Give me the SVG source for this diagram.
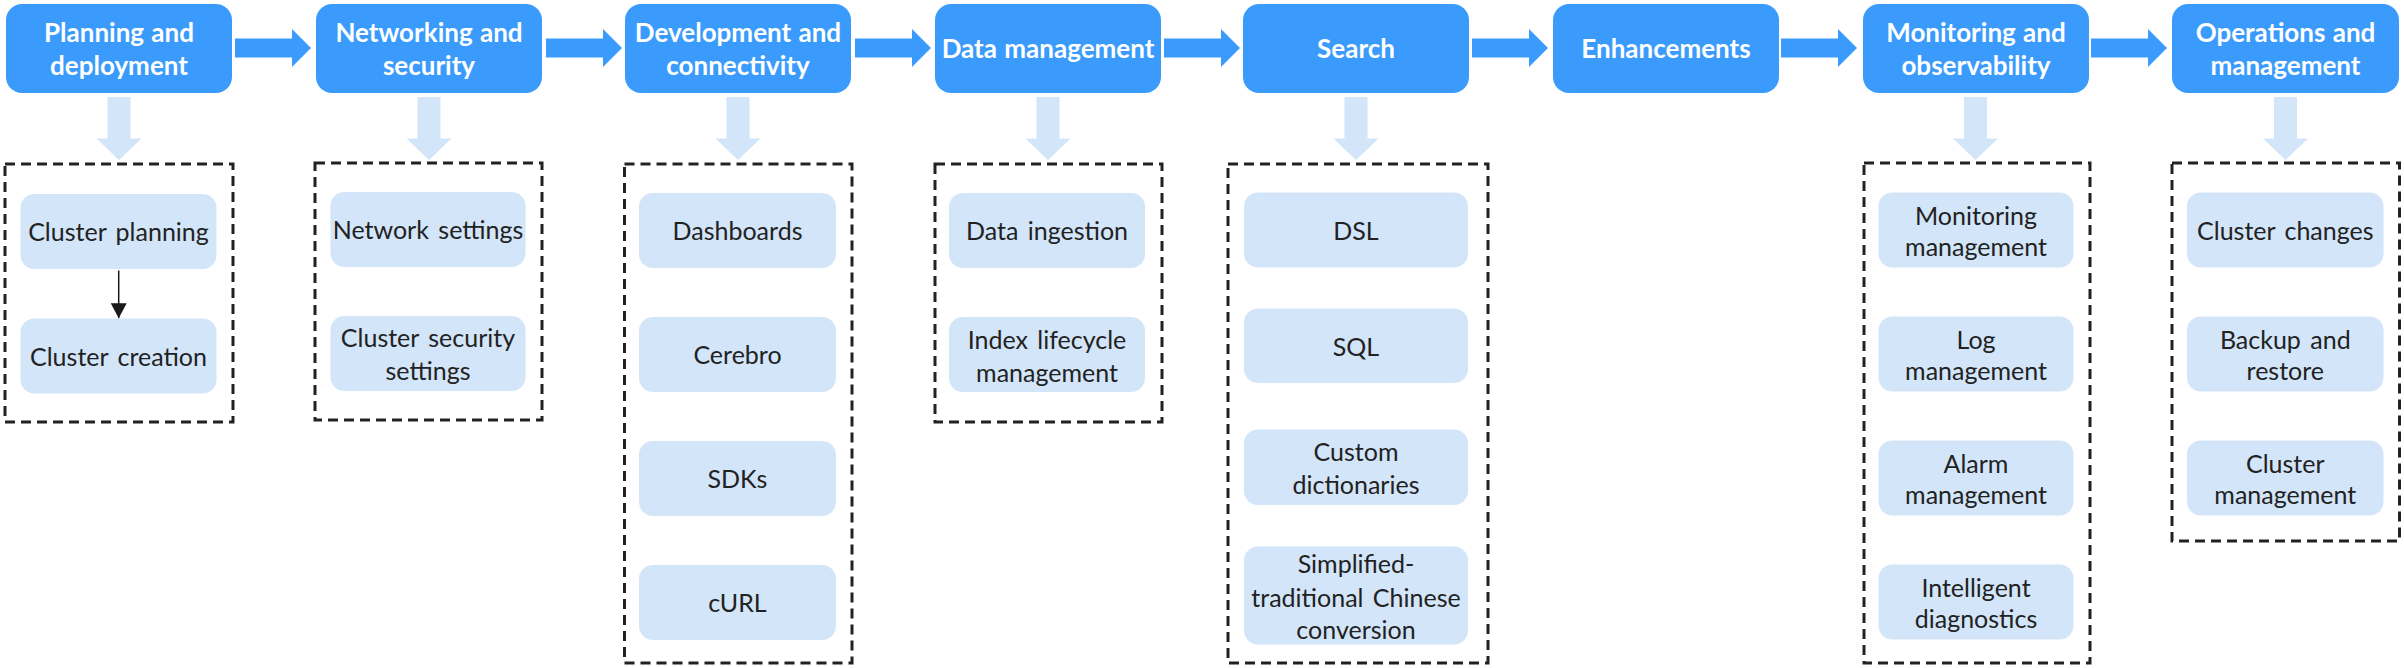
<svg xmlns="http://www.w3.org/2000/svg" width="2404" height="668" viewBox="0 0 2404 668">
<style>
.top{fill:#3a9bfd}
.toptxt{font-family:Lato,"Open Sans",sans-serif;font-weight:bold;font-size:26px;word-spacing:1px;fill:#ffffff;text-anchor:middle}
.item{fill:#d3e5f9}
.itxt{font-family:Lato,"Open Sans",sans-serif;font-size:25px;word-spacing:3px;fill:#222222;text-anchor:middle}
.cont{fill:none;stroke:#222222;stroke-width:3;stroke-dasharray:10 6}
.harrow{fill:#3a9bfd}
.varrow{fill:#d3e5f9}
</style>
<defs>
<marker id="blk" markerWidth="16" markerHeight="16" refX="15" refY="8" orient="auto" markerUnits="userSpaceOnUse">
<path d="M0,0 L15,8 L0,16 Z" fill="#1a1a1a"/>
</marker>
</defs>
<rect width="2404" height="668" fill="#ffffff"/>

<g id="connectors">
<polygon class="harrow" points="235,38.5 292,38.5 292,29 311,48 292,67 292,57.5 235,57.5"/>
<polygon class="harrow" points="546,38.5 603,38.5 603,29 622,48 603,67 603,57.5 546,57.5"/>
<polygon class="harrow" points="855,38.5 912,38.5 912,29 931,48 912,67 912,57.5 855,57.5"/>
<polygon class="harrow" points="1164,38.5 1221,38.5 1221,29 1240,48 1221,67 1221,57.5 1164,57.5"/>
<polygon class="harrow" points="1472,38.5 1529,38.5 1529,29 1548,48 1529,67 1529,57.5 1472,57.5"/>
<polygon class="harrow" points="1781,38.5 1838,38.5 1838,29 1857,48 1838,67 1838,57.5 1781,57.5"/>
<polygon class="harrow" points="2091,38.5 2148,38.5 2148,29 2167,48 2148,67 2148,57.5 2091,57.5"/>

<polygon class="varrow" points="107.5,97 130.5,97 130.5,138.5 141.5,138.5 119,160 96.5,138.5 107.5,138.5"/>
<polygon class="varrow" points="417.5,97 440.5,97 440.5,138.5 451.5,138.5 429,160 406.5,138.5 417.5,138.5"/>
<polygon class="varrow" points="726.5,97 749.5,97 749.5,138.5 760.5,138.5 738,160 715.5,138.5 726.5,138.5"/>
<polygon class="varrow" points="1036.5,97 1059.5,97 1059.5,138.5 1070.5,138.5 1048,160 1025.5,138.5 1036.5,138.5"/>
<polygon class="varrow" points="1344.5,97 1367.5,97 1367.5,138.5 1378.5,138.5 1356,160 1333.5,138.5 1344.5,138.5"/>
<polygon class="varrow" points="1964,97 1987,97 1987,138.5 1998,138.5 1975.5,160 1953,138.5 1964,138.5"/>
<polygon class="varrow" points="2274,97 2297,97 2297,138.5 2308,138.5 2285.5,160 2263,138.5 2274,138.5"/>

<line x1="118.7" y1="270.5" x2="118.7" y2="318.3" stroke="#1a1a1a" stroke-width="1.5" marker-end="url(#blk)"/>
</g>

<g id="n-planning">
<rect class="top" x="6" y="4" width="226" height="89" rx="16"/>
<text class="toptxt" x="119" y="41.5">Planning and</text>
<text class="toptxt" x="119" y="75">deployment</text>
</g>
<g id="n-networking">
<rect class="top" x="316" y="4" width="226" height="89" rx="16"/>
<text class="toptxt" x="429" y="41.5">Networking and</text>
<text class="toptxt" x="429" y="75">security</text>
</g>
<g id="n-development">
<rect class="top" x="625" y="4" width="226" height="89" rx="16"/>
<text class="toptxt" x="738" y="41.5">Development and</text>
<text class="toptxt" x="738" y="75">connectivity</text>
</g>
<g id="n-data">
<rect class="top" x="935" y="4" width="226" height="89" rx="16"/>
<text class="toptxt" x="1048" y="57.5">Data management</text>
</g>
<g id="n-search">
<rect class="top" x="1243" y="4" width="226" height="89" rx="16"/>
<text class="toptxt" x="1356" y="57.5">Search</text>
</g>
<g id="n-enhancements">
<rect class="top" x="1553" y="4" width="226" height="89" rx="16"/>
<text class="toptxt" x="1666" y="57.5">Enhancements</text>
</g>
<g id="n-monitoring">
<rect class="top" x="1863" y="4" width="226" height="89" rx="16"/>
<text class="toptxt" x="1976" y="41.5">Monitoring and</text>
<text class="toptxt" x="1976" y="75">observability</text>
</g>
<g id="n-operations">
<rect class="top" x="2172" y="4" width="227" height="89" rx="16"/>
<text class="toptxt" x="2285.5" y="41.5">Operations and</text>
<text class="toptxt" x="2285.5" y="75">management</text>
</g>

<g id="g-planning">
<rect class="cont" x="5" y="164" width="228" height="258"/>
<g id="i-cluster-planning"><rect class="item" x="20.5" y="194" width="196" height="75" rx="14"/><text class="itxt" x="118.5" y="241">Cluster planning</text></g>
<g id="i-cluster-creation"><rect class="item" x="20.5" y="318.5" width="196" height="75" rx="14"/><text class="itxt" x="118.5" y="365.5">Cluster creation</text></g>
</g>

<g id="g-networking">
<rect class="cont" x="315" y="163" width="227" height="257"/>
<g id="i-network-settings"><rect class="item" x="330.5" y="192" width="195" height="75" rx="14"/><text class="itxt" x="428" y="239">Network settings</text></g>
<g id="i-cluster-security"><rect class="item" x="330.5" y="316" width="195" height="75" rx="14"/><text class="itxt" x="428" y="347">Cluster security</text><text class="itxt" x="428" y="379.5">settings</text></g>
</g>

<g id="g-development">
<rect class="cont" x="624.5" y="164" width="227.5" height="499"/>
<g id="i-dashboards"><rect class="item" x="639" y="193" width="197" height="75" rx="14"/><text class="itxt" x="737.5" y="240">Dashboards</text></g>
<g id="i-cerebro"><rect class="item" x="639" y="317" width="197" height="75" rx="14"/><text class="itxt" x="737.5" y="364">Cerebro</text></g>
<g id="i-sdks"><rect class="item" x="639" y="441" width="197" height="75" rx="14"/><text class="itxt" x="737.5" y="488">SDKs</text></g>
<g id="i-curl"><rect class="item" x="639" y="565" width="197" height="75" rx="14"/><text class="itxt" x="737.5" y="612">cURL</text></g>
</g>

<g id="g-data">
<rect class="cont" x="935" y="164" width="227" height="258"/>
<g id="i-data-ingestion"><rect class="item" x="949" y="193" width="196" height="75" rx="14"/><text class="itxt" x="1047" y="240">Data ingestion</text></g>
<g id="i-index-lifecycle"><rect class="item" x="949" y="317" width="196" height="75" rx="14"/><text class="itxt" x="1047" y="349">Index lifecycle</text><text class="itxt" x="1047" y="381.5">management</text></g>
</g>

<g id="g-search">
<rect class="cont" x="1228" y="164" width="260" height="499"/>
<g id="i-dsl"><rect class="item" x="1244" y="192.5" width="224" height="75" rx="14"/><text class="itxt" x="1356" y="239.5">DSL</text></g>
<g id="i-sql"><rect class="item" x="1244" y="308.5" width="224" height="74.5" rx="14"/><text class="itxt" x="1356" y="355.5">SQL</text></g>
<g id="i-custom"><rect class="item" x="1244" y="429.5" width="224" height="75.5" rx="14"/><text class="itxt" x="1356" y="460.5">Custom</text><text class="itxt" x="1356" y="494">dictionaries</text></g>
<g id="i-simplified"><rect class="item" x="1244" y="546.5" width="224" height="98" rx="14"/><text class="itxt" x="1356" y="572.5">Simplified-</text><text class="itxt" x="1356" y="606.5">traditional Chinese</text><text class="itxt" x="1356" y="639">conversion</text></g>
</g>

<g id="g-monitoring">
<rect class="cont" x="1864" y="163" width="226" height="500"/>
<g id="i-monitoring-mgmt"><rect class="item" x="1878.5" y="192.5" width="195" height="75" rx="14"/><text class="itxt" x="1976" y="224.5">Monitoring</text><text class="itxt" x="1976" y="256">management</text></g>
<g id="i-log-mgmt"><rect class="item" x="1878.5" y="316.5" width="195" height="75" rx="14"/><text class="itxt" x="1976" y="348.5">Log</text><text class="itxt" x="1976" y="380">management</text></g>
<g id="i-alarm-mgmt"><rect class="item" x="1878.5" y="440.5" width="195" height="75" rx="14"/><text class="itxt" x="1976" y="472.5">Alarm</text><text class="itxt" x="1976" y="504">management</text></g>
<g id="i-intelligent"><rect class="item" x="1878.5" y="564.5" width="195" height="75" rx="14"/><text class="itxt" x="1976" y="596.5">Intelligent</text><text class="itxt" x="1976" y="628">diagnostics</text></g>
</g>

<g id="g-operations">
<rect class="cont" x="2172" y="163" width="227.5" height="378"/>
<g id="i-cluster-changes"><rect class="item" x="2187" y="192.5" width="196.5" height="75" rx="14"/><text class="itxt" x="2285.3" y="239.5">Cluster changes</text></g>
<g id="i-backup"><rect class="item" x="2187" y="316.5" width="196.5" height="75" rx="14"/><text class="itxt" x="2285.3" y="348.5">Backup and</text><text class="itxt" x="2285.3" y="380">restore</text></g>
<g id="i-cluster-mgmt"><rect class="item" x="2187" y="440.5" width="196.5" height="75" rx="14"/><text class="itxt" x="2285.3" y="472.5">Cluster</text><text class="itxt" x="2285.3" y="504">management</text></g>
</g>
</svg>
